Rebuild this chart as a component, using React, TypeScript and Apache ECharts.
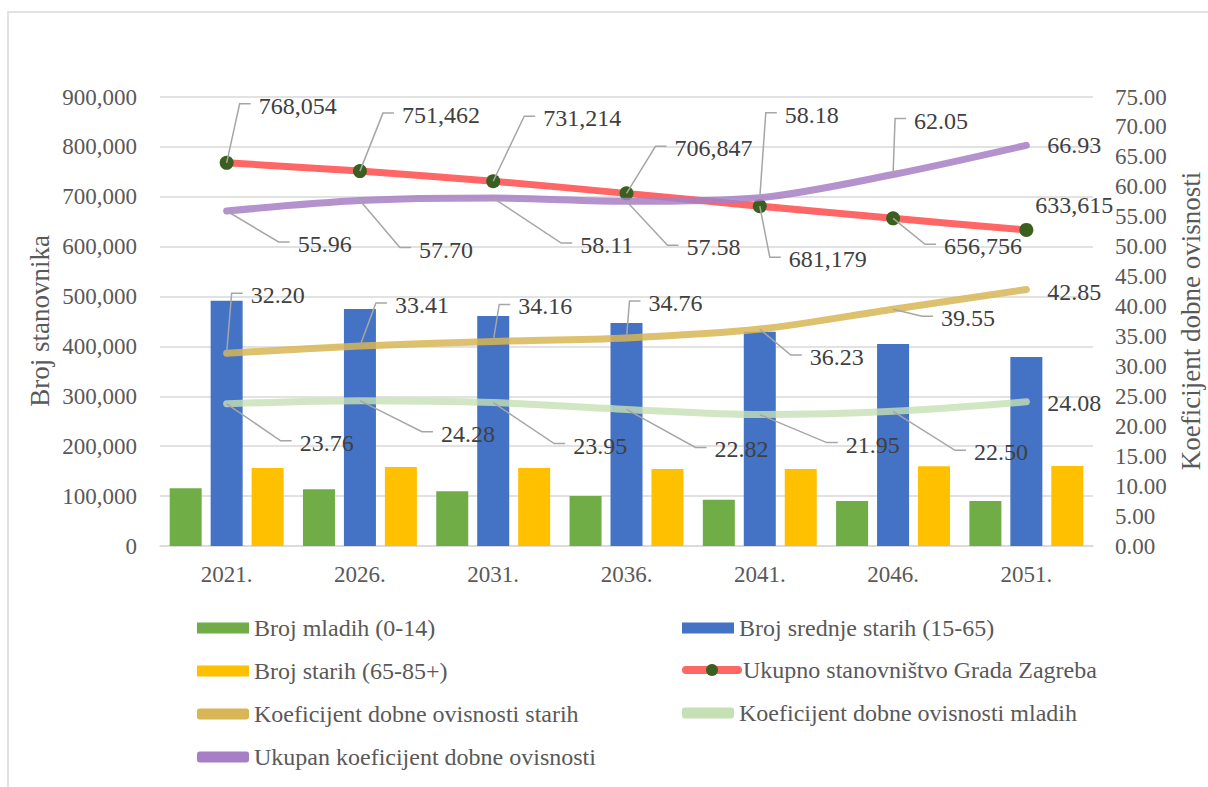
import React, { useEffect, useRef } from "react";
import * as echarts from "echarts";

// ---- data ----
const years = ["2021.", "2026.", "2031.", "2036.", "2041.", "2046.", "2051."];
const young = [116000, 114000, 109600, 100200, 92800, 90200, 90200];
const middle = [491600, 475000, 461000, 447000, 429500, 404800, 378800];
const old = [156300, 158300, 156300, 154300, 154300, 159700, 160300];
const population = [768054, 751462, 731214, 706847, 681179, 656756, 633615];
const oldDep = [32.2, 33.41, 34.16, 34.76, 36.23, 39.55, 42.85];
const youngDep = [23.76, 24.28, 23.95, 22.82, 21.95, 22.5, 24.08];
const totalDep = [55.96, 57.7, 58.11, 57.58, 58.18, 62.05, 66.93];

const names = {
  young: "Broj mladih (0-14)",
  middle: "Broj srednje starih (15-65)",
  old: "Broj starih (65-85+)",
  pop: "Ukupno stanovništvo Grada Zagreba",
  oldDep: "Koeficijent dobne ovisnosti starih",
  youngDep: "Koeficijent dobne ovisnosti mladih",
  totalDep: "Ukupan koeficijent dobne ovisnosti",
};

// ---- label placement (offsets of leader elbow from point: dx, dy, hasLeader) ----
const popLabelPos = [[13, -59, 1], [23, -58, 1], [31, -65, 1], [29, -47, 1], [10, 51, 1], [32, 26, 1], [9, -25, 0]];
const totalLabelPos = [[52, 31, 1], [40, 47, 1], [68, 45, 1], [41, 44, 1], [6, -85, 1], [2, -56, 1], [21, 0, 0]];
const oldLabelPos = [[5, -60, 1], [16, -43, 1], [6, -37, 1], [3, -37, 1], [31, 26, 1], [29, 7, 1], [21, 3, 0]];
const youngLabelPos = [[54, 37, 1], [62, 31, 1], [61, 41, 1], [69, 38, 1], [67, 28, 1], [62, 39, 1], [21, 1, 0]];

const FONT = "'Liberation Serif', 'Times New Roman', 'DejaVu Serif', serif";
const AXIS_COLOR = "#595959";
const LABEL_COLOR = "#404040";
const GRID_COLOR = "#D9D9D9";

const fmtInt = (v: number) => v.toLocaleString("en-US");
const fmt2 = (v: number) => v.toFixed(2);

function labelSeries(id: string, values: number[], yAxisIndex: number, pos: number[][], fmt: (v: number) => string) {
  return {
    type: "custom",
    id,
    name: id,
    yAxisIndex,
    silent: true,
    z: 20,
    data: values.map((v, i) => [i, v]),
    renderItem: (params: any, api: any) => {
      const i = params.dataIndex;
      const p = api.coord([api.value(0), api.value(1)]);
      const [dx, dy, lead] = pos[i];
      const text = fmt(values[i]);
      const textStyle = {
        text,
        fill: LABEL_COLOR,
        fontSize: 24,
        fontFamily: FONT,
        align: "left",
        verticalAlign: "middle",
      };
      if (!lead) {
        return { type: "text", x: p[0] + dx, y: p[1] + dy, style: textStyle };
      }
      const ex = p[0] + dx;
      const ey = p[1] + dy;
      return {
        type: "group",
        children: [
          {
            type: "polyline",
            shape: { points: [[p[0], p[1]], [ex, ey], [ex + 11, ey]] },
            style: { stroke: "#A6A6A6", lineWidth: 1.5, fill: null },
          },
          { type: "text", x: ex + 19, y: ey + 2, style: textStyle },
        ],
      };
    },
  };
}

export default function App() {
  const ref = useRef<HTMLDivElement>(null);
  useEffect(() => {
    if (!ref.current) return;
    const chart = echarts.init(ref.current, null, { renderer: "svg" });
    const legendText = { fontFamily: FONT, fontSize: 24, color: AXIS_COLOR };
    const legendBase = {
      orient: "vertical",
      itemGap: 19,
      itemWidth: 52,
      itemHeight: 11,
      padding: 0,
      textStyle: legendText,
    };
    const option: any = {
      animation: false,
      backgroundColor: "#ffffff",
      textStyle: { fontFamily: FONT },
      grid: { left: 160, right: 115, top: 97, bottom: 241, containLabel: false },
      xAxis: {
        type: "category",
        data: years,
        axisTick: { show: false },
        axisLine: { lineStyle: { color: GRID_COLOR, width: 1.5 } },
        axisLabel: { fontFamily: FONT, fontSize: 23, color: AXIS_COLOR, margin: 17 },
      },
      yAxis: [
        {
          type: "value",
          min: 0,
          max: 900000,
          interval: 100000,
          axisLine: { show: false },
          axisTick: { show: false },
          splitLine: { lineStyle: { color: GRID_COLOR, width: 1.5 } },
          axisLabel: {
            fontFamily: FONT,
            fontSize: 23,
            color: AXIS_COLOR,
            margin: 23,
            formatter: (v: number) => fmtInt(v),
          },
        },
        {
          type: "value",
          min: 0,
          max: 75,
          interval: 5,
          position: "right",
          axisLine: { show: false },
          axisTick: { show: false },
          splitLine: { show: false },
          axisLabel: {
            fontFamily: FONT,
            fontSize: 23,
            color: AXIS_COLOR,
            margin: 22,
            formatter: (v: number) => fmt2(v),
          },
        },
      ],
      legend: [
        {
          ...legendBase,
          left: 197,
          top: 616,
          data: [
            { name: names.young, icon: "rect" },
            { name: names.old, icon: "rect" },
            { name: names.oldDep, icon: "roundRect" },
            { name: names.totalDep, icon: "roundRect" },
          ],
        },
        {
          ...legendBase,
          left: 682,
          top: 616,
          data: [{ name: names.middle, icon: "rect" }],
        },
        {
          ...legendBase,
          left: 682,
          top: 658,
          itemHeight: 15,
          lineStyle: { width: 8, cap: "round", opacity: 1 },
          data: [{ name: names.pop }],
        },
        {
          ...legendBase,
          left: 682,
          top: 701,
          data: [{ name: names.youngDep, icon: "roundRect" }],
        },
      ],
      graphic: [
        {
          type: "rect",
          shape: { x: 8, y: 12, width: 1300, height: 900 },
          style: { fill: null, stroke: GRID_COLOR, lineWidth: 1.5 },
          silent: true,
          z: -1,
        },
        {
          type: "text",
          x: 40,
          y: 321,
          rotation: Math.PI / 2,
          style: {
            text: "Broj stanovnika",
            fontFamily: FONT,
            fontSize: 27,
            fill: AXIS_COLOR,
            align: "center",
            verticalAlign: "middle",
          },
        },
        {
          type: "text",
          x: 1191,
          y: 321,
          rotation: Math.PI / 2,
          style: {
            text: "Koeficijent dobne ovisnosti",
            fontFamily: FONT,
            fontSize: 27,
            fill: AXIS_COLOR,
            align: "center",
            verticalAlign: "middle",
          },
        },
      ],
      series: [
        {
          type: "bar",
          name: names.young,
          data: young,
          barWidth: 32,
          barGap: "28%",
          itemStyle: { color: "#70AD47" },
        },
        {
          type: "bar",
          name: names.middle,
          data: middle,
          barWidth: 32,
          barGap: "28%",
          itemStyle: { color: "#4472C4" },
        },
        {
          type: "bar",
          name: names.old,
          data: old,
          barWidth: 32,
          barGap: "28%",
          itemStyle: { color: "#FFC000" },
        },
        {
          type: "line",
          name: names.pop,
          data: population,
          yAxisIndex: 0,
          smooth: 0.3,
          symbol: "circle",
          symbolSize: 14,
          itemStyle: { color: "#3A5F1E" },
          lineStyle: { color: "#FF6666", width: 7, cap: "round" },
          z: 3,
        },
        {
          type: "line",
          name: names.oldDep,
          data: oldDep,
          yAxisIndex: 1,
          smooth: 0.3,
          symbol: "none",
          itemStyle: { color: "#D8B655" },
          lineStyle: { color: "#D8B655", width: 7, cap: "round", opacity: 0.85 },
          z: 4,
        },
        {
          type: "line",
          name: names.youngDep,
          data: youngDep,
          yAxisIndex: 1,
          smooth: 0.3,
          symbol: "none",
          itemStyle: { color: "#C5E0B4" },
          lineStyle: { color: "#C5E0B4", width: 7, cap: "round", opacity: 0.8 },
          z: 4,
        },
        {
          type: "line",
          name: names.totalDep,
          data: totalDep,
          yAxisIndex: 1,
          smooth: 0.3,
          symbol: "none",
          itemStyle: { color: "#A67FC6" },
          lineStyle: { color: "#A67FC6", width: 7, cap: "round", opacity: 0.85 },
          z: 5,
        },
        labelSeries("lbl-pop", population, 0, popLabelPos, fmtInt),
        labelSeries("lbl-old", oldDep, 1, oldLabelPos, fmt2),
        labelSeries("lbl-young", youngDep, 1, youngLabelPos, fmt2),
        labelSeries("lbl-total", totalDep, 1, totalLabelPos, fmt2),
      ],
    };
    chart.setOption(option);
    return () => chart.dispose();
  }, []);
  return (
    <div
      ref={ref}
      style={{ position: "fixed", left: 0, top: 0, width: 1208, height: 787, background: "#fff" }}
    />
  );
}
